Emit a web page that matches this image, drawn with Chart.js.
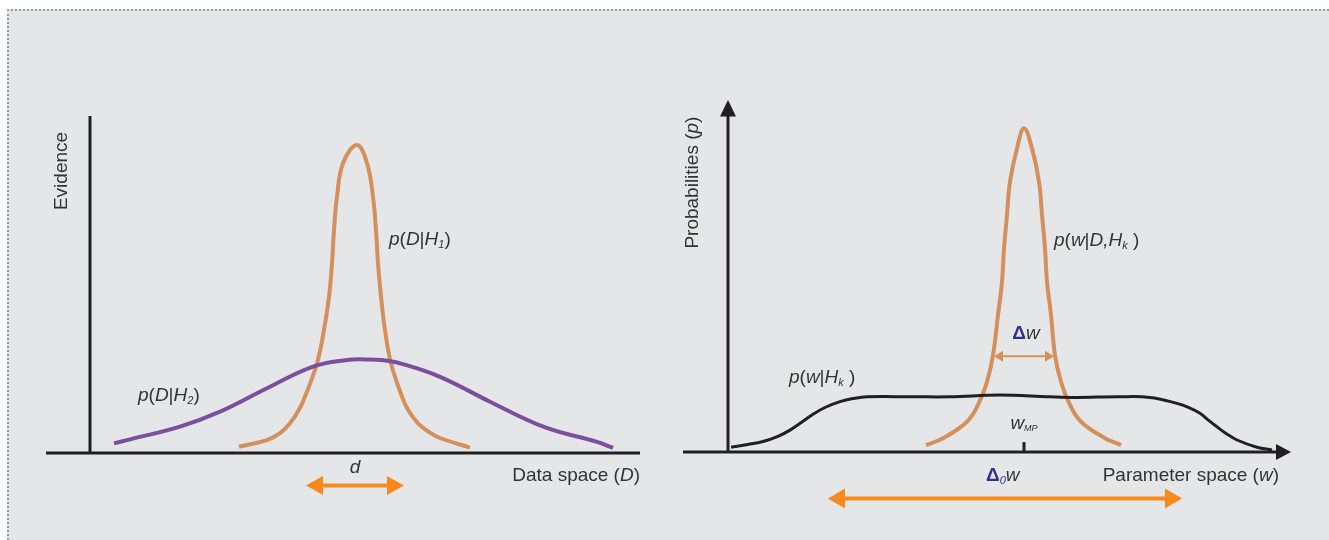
<!DOCTYPE html>
<html>
<head>
<meta charset="utf-8">
<script src="https://cdn.jsdelivr.net/npm/chart.js@4.4.1/dist/chart.umd.min.js"></script>
<style>
  html, body { margin: 0; padding: 0; background: #fff; width: 1329px; height: 540px; overflow: hidden; }
  #panel { position: absolute; left: 7px; top: 9px; width: 1322px; height: 531px; background: #e5e6e8;
           border-top: 2px dotted #9a9a9a; border-left: 2px dotted #9a9a9a; box-sizing: border-box; }
  canvas { position: absolute; }
  #evidenceChart { left: 40px; top: 93px; }
  #paramChart { left: 668px; top: 92px; }
</style>
</head>
<body>
<div id="panel"></div>
<canvas id="evidenceChart" width="610" height="420"></canvas>
<canvas id="paramChart" width="630" height="420"></canvas>
<script>
// --- left panel: evidence over data space D ---
const h1X = [14.9, 17.7, 19.0, 20.0, 20.9, 21.5, 22.7, 23.4, 23.9, 24.2, 24.4, 24.7, 25.3, 26.7, 27.7, 28.3, 28.6, 28.8, 29.1, 29.5, 30.1, 31.2, 31.8, 32.8, 34.0, 35.0, 38.0];
const h1Y = [2.1, 4.3, 6.6, 9.9, 14.4, 18.8, 29.9, 41.0, 52.1, 63.2, 74.3, 85.4, 96.6, 102.7, 96.6, 85.4, 74.3, 63.2, 52.1, 41.0, 29.9, 18.8, 14.4, 9.9, 6.8, 5.0, 1.8];
const h2X = [2.4, 3.7, 9.0, 13.0, 17.7, 22.3, 25.7, 27.5, 29.2, 31.0, 35.0, 40.0, 45.4, 50.7, 52.3];
const h2Y = [3.2, 4.3, 8.8, 13.8, 21.6, 28.8, 31.0, 31.2, 31.0, 29.9, 25.4, 17.1, 8.7, 3.7, 1.7];
const dRange = [21.6, 31.4];

// --- right panel: parameter space w ---
const postX = [19.8, 21.5, 23.9, 25.0, 25.9, 26.5, 27.0, 27.4, 27.6, 27.9, 28.2, 28.9, 29.6, 30.4, 31.1, 31.4, 31.7, 31.9, 32.3, 32.7, 33.3, 34.2, 35.3, 37.7, 39.3];
const postY = [2.3, 4.6, 10.1, 15.7, 23.4, 32.3, 45.7, 56.8, 67.9, 79.0, 90.1, 101.2, 107.9, 101.2, 90.1, 79.0, 67.9, 56.8, 45.7, 32.3, 23.4, 15.7, 10.1, 4.6, 2.3];
const priorX = [0.3, 2.0, 3.5, 5.0, 6.2, 7.4, 8.5, 9.8, 11.2, 12.5, 13.9, 18.5, 22.2, 27.2, 32.2, 34.9, 38.9, 42.2, 44.9, 46.1, 47.2, 48.0, 48.9, 49.8, 50.9, 52.9, 54.4];
const priorY = [1.6, 2.5, 3.5, 5.2, 7.3, 10.0, 12.6, 15.0, 16.8, 17.8, 18.4, 18.4, 18.4, 19.0, 18.4, 18.2, 18.4, 18.2, 16.2, 14.8, 12.9, 10.7, 8.4, 6.2, 4.0, 1.6, 0.7];
const wMP = 29.6;
const dwRange = [26.6, 32.6];
const d0wRange = [10.0, 45.4];

const INK = '#231f20';
const TEXT = '#333333';
const TAN = '#d4905c';
const PURPLE = '#7a4fa0';
const ORANGE = '#f7891f';
const NAVY = '#2e3192';
const FAM = '"Liberation Sans", Arial, sans-serif';
const UP = '19px ' + FAM;
const IT = 'italic 19px ' + FAM;
const SUB = 'italic 11px ' + FAM;
const TINY = 'italic 9px ' + FAM;

function pts(xs, ys) {
  return xs.map(function (x, i) { return { x: x, y: ys[i] }; });
}

function drawRuns(ctx, x, y, runs, align) {
  let w = 0;
  runs.forEach(function (r) { ctx.font = r.f; w += ctx.measureText(r.t).width; });
  let cx = align === 'center' ? x - w / 2 : (align === 'right' ? x - w : x);
  ctx.textBaseline = 'middle';
  ctx.textAlign = 'left';
  runs.forEach(function (r) {
    ctx.font = r.f;
    ctx.fillStyle = r.c || TEXT;
    ctx.fillText(r.t, cx, y + (r.dy || 0));
    cx += ctx.measureText(r.t).width;
  });
}

function doubleArrow(ctx, x1, x2, y, color, lw, len, half) {
  ctx.save();
  ctx.strokeStyle = color;
  ctx.fillStyle = color;
  ctx.lineWidth = lw;
  ctx.beginPath();
  ctx.moveTo(x1 + len - 1, y);
  ctx.lineTo(x2 - len + 1, y);
  ctx.stroke();
  ctx.beginPath();
  ctx.moveTo(x1, y); ctx.lineTo(x1 + len, y - half); ctx.lineTo(x1 + len, y + half); ctx.closePath();
  ctx.fill();
  ctx.beginPath();
  ctx.moveTo(x2, y); ctx.lineTo(x2 - len, y - half); ctx.lineTo(x2 - len, y + half); ctx.closePath();
  ctx.fill();
  ctx.restore();
}

function line(ctx, x1, y1, x2, y2, w, color) {
  ctx.save();
  ctx.strokeStyle = color;
  ctx.lineWidth = w;
  ctx.beginPath();
  ctx.moveTo(x1, y1);
  ctx.lineTo(x2, y2);
  ctx.stroke();
  ctx.restore();
}

function rotated(ctx, x, y, runs) {
  ctx.save();
  ctx.translate(x, y);
  ctx.rotate(-Math.PI / 2);
  drawRuns(ctx, 0, 0, runs, 'center');
  ctx.restore();
}

const evidenceDecor = {
  id: 'evidenceDecor',
  beforeDatasetsDraw(chart) {
    const ctx = chart.ctx, X = chart.scales.x, Y = chart.scales.y;
    line(ctx, X.getPixelForValue(-4.4), Y.getPixelForValue(0), X.getPixelForValue(55), Y.getPixelForValue(0), 3, INK);
    line(ctx, X.getPixelForValue(0), Y.getPixelForValue(0), X.getPixelForValue(0), Y.getPixelForValue(112.3), 3, INK);
  },
  afterDatasetsDraw(chart) {
    const ctx = chart.ctx, X = chart.scales.x, Y = chart.scales.y;
    const px = function (v) { return X.getPixelForValue(v); };
    const py = function (v) { return Y.getPixelForValue(v); };
    rotated(ctx, px(-2.8), py(94), [{ t: 'Evidence', f: UP }]);
    drawRuns(ctx, px(29.9), py(71), [
      { t: 'p', f: IT }, { t: '(', f: UP }, { t: 'D', f: IT }, { t: '|', f: UP }, { t: 'H', f: IT },
      { t: '1', f: SUB, dy: 5 }, { t: ')', f: UP }], 'left');
    drawRuns(ctx, px(4.8), py(19), [
      { t: 'p', f: IT }, { t: '(', f: UP }, { t: 'D', f: IT }, { t: '|', f: UP }, { t: 'H', f: IT },
      { t: '2', f: SUB, dy: 5 }, { t: ')', f: UP }], 'left');
    drawRuns(ctx, px((dRange[0] + dRange[1]) / 2), py(-5), [{ t: 'd', f: IT }], 'center');
    drawRuns(ctx, px(55), py(-7.7), [{ t: 'Data space (', f: UP }, { t: 'D', f: IT }, { t: ')', f: UP }], 'right');
    doubleArrow(ctx, px(dRange[0]), px(dRange[1]), py(-10.8), ORANGE, 4, 17, 9.5);
  }
};

const paramDecor = {
  id: 'paramDecor',
  beforeDatasetsDraw(chart) {
    const ctx = chart.ctx, X = chart.scales.x, Y = chart.scales.y;
    const px = function (v) { return X.getPixelForValue(v); };
    const py = function (v) { return Y.getPixelForValue(v); };
    line(ctx, px(-4.5), py(0), px(55), py(0), 3, INK);
    line(ctx, px(0), py(0), px(0), py(112), 3, INK);
    ctx.fillStyle = INK;
    ctx.beginPath();
    ctx.moveTo(px(0), py(117.3)); ctx.lineTo(px(0) - 8, py(111.8)); ctx.lineTo(px(0) + 8, py(111.8)); ctx.closePath();
    ctx.fill();
    ctx.beginPath();
    ctx.moveTo(px(56.3), py(0)); ctx.lineTo(px(54.8), py(0) - 8); ctx.lineTo(px(54.8), py(0) + 8); ctx.closePath();
    ctx.fill();
    line(ctx, px(wMP), py(0), px(wMP), py(3.3), 3, INK);
  },
  afterDatasetsDraw(chart) {
    const ctx = chart.ctx, X = chart.scales.x, Y = chart.scales.y;
    const px = function (v) { return X.getPixelForValue(v); };
    const py = function (v) { return Y.getPixelForValue(v); };
    rotated(ctx, px(-3.55), py(89.8), [{ t: 'Probabilities (', f: UP }, { t: 'p', f: IT }, { t: ')', f: UP }]);
    drawRuns(ctx, px(32.6), py(70.3), [
      { t: 'p', f: IT }, { t: '(', f: UP }, { t: 'w', f: IT }, { t: '|', f: UP }, { t: 'D,H', f: IT },
      { t: 'k', f: SUB, dy: 5 }, { t: ' )', f: UP }], 'left');
    drawRuns(ctx, px(6.1), py(24.7), [
      { t: 'p', f: IT }, { t: '(', f: UP }, { t: 'w', f: IT }, { t: '|', f: UP }, { t: 'H', f: IT },
      { t: 'k', f: SUB, dy: 5 }, { t: ' )', f: UP }], 'left');
    drawRuns(ctx, px(29.8), py(39.3), [{ t: 'Δ', f: 'bold 19px ' + FAM, c: NAVY }, { t: 'w', f: IT }], 'center');
    doubleArrow(ctx, px(dwRange[0]), px(dwRange[1]), py(31.9), TAN, 2, 9, 5.5);
    drawRuns(ctx, px(wMP), py(9.5), [{ t: 'w', f: IT }, { t: 'MP', f: TINY, dy: 5 }], 'center');
    drawRuns(ctx, px(25.8), py(-8), [
      { t: 'Δ', f: 'bold 19px ' + FAM, c: NAVY }, { t: '0', f: SUB, c: NAVY, dy: 5 }, { t: 'w', f: IT }], 'left');
    drawRuns(ctx, px(55.1), py(-8), [{ t: 'Parameter space (', f: UP }, { t: 'w', f: IT }, { t: ')', f: UP }], 'right');
    doubleArrow(ctx, px(d0wRange[0]), px(d0wRange[1]), py(-15.5), ORANGE, 4, 17, 10);
  }
};

function curve(xs, ys, color, width) {
  return {
    data: pts(xs, ys),
    borderColor: color,
    borderWidth: width,
    pointRadius: 0,
    fill: false,
    tension: 0.4
  };
}

function baseOptions(xMin, xMax) {
  return {
    responsive: false,
    animation: false,
    events: [],
    layout: { padding: 0 },
    plugins: { legend: { display: false }, tooltip: { enabled: false } },
    scales: {
      x: { type: 'linear', min: xMin, max: xMax, display: false },
      y: { type: 'linear', min: -20, max: 120, display: false }
    }
  };
}

new Chart(document.getElementById('evidenceChart').getContext('2d'), {
  type: 'line',
  data: { datasets: [curve(h2X, h2Y, PURPLE, 4), curve(h1X, h1Y, TAN, 4)] },
  options: baseOptions(-5, 56),
  plugins: [evidenceDecor]
});

new Chart(document.getElementById('paramChart').getContext('2d'), {
  type: 'line',
  data: { datasets: [curve(priorX, priorY, INK, 3), curve(postX, postY, TAN, 4)] },
  options: baseOptions(-6, 57),
  plugins: [paramDecor]
});
</script>
</body>
</html>
